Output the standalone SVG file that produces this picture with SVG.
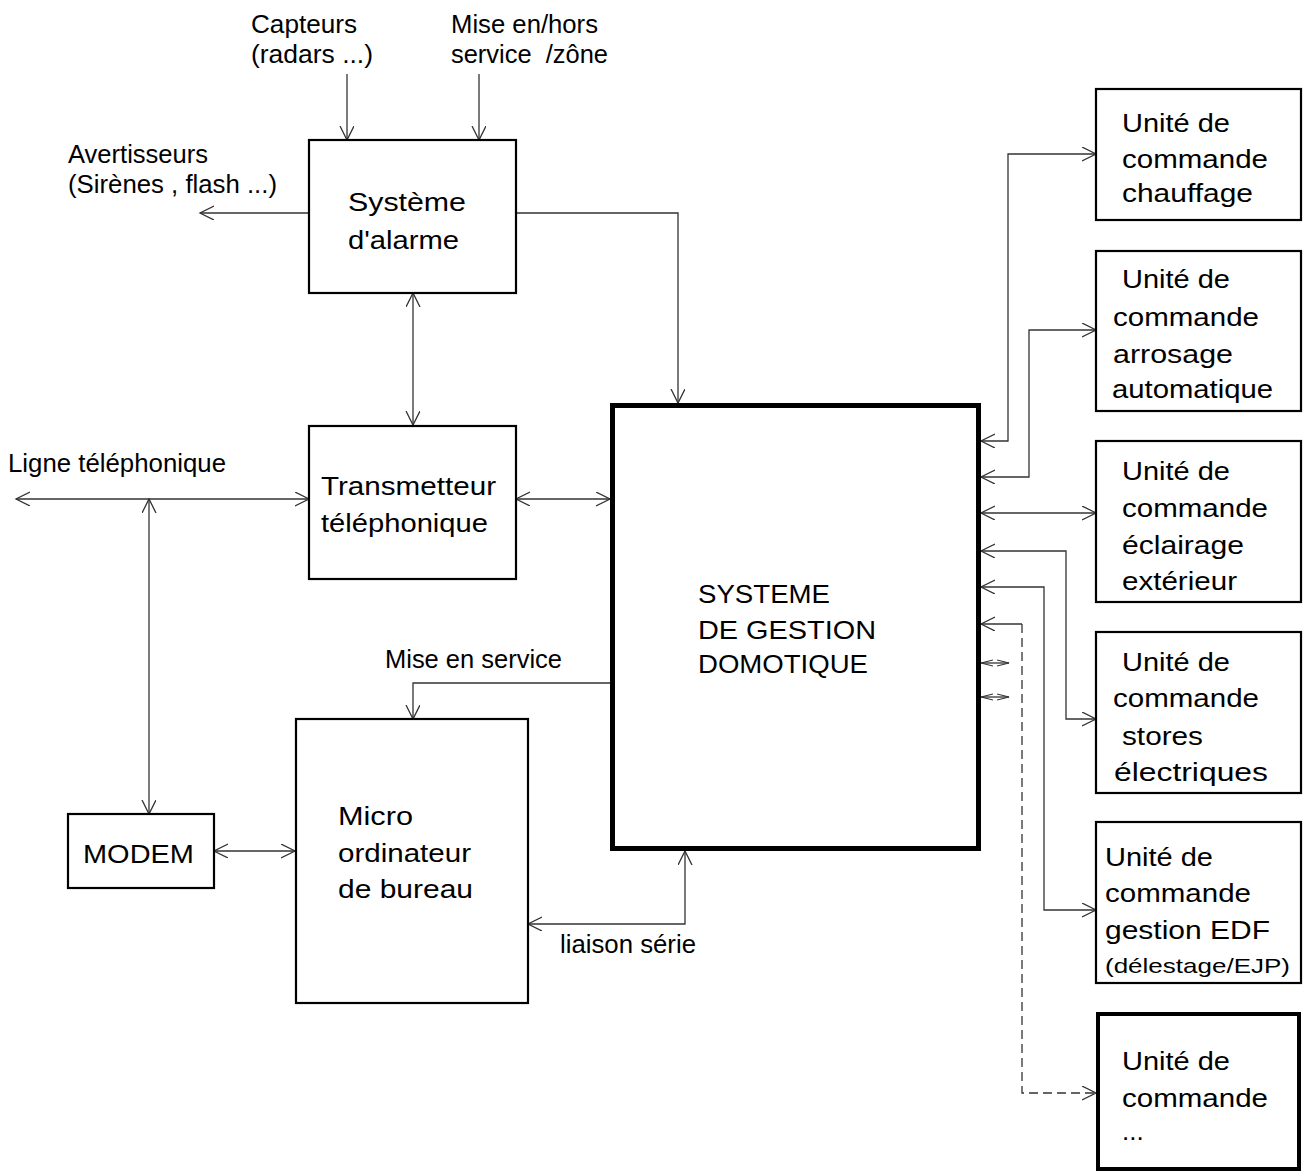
<svg xmlns="http://www.w3.org/2000/svg" width="1303" height="1173" viewBox="0 0 1303 1173">
<style>
text{font-family:"Liberation Sans",Arial,sans-serif;fill:#000}
.lbl{font-size:25px}
.bx{font-size:26px}
.sm{font-size:21px}
.box{fill:#fff;stroke:#000;stroke-width:2.2}
.thick{fill:#fff;stroke:#000;stroke-width:5}
.c{fill:none;stroke:#333;stroke-width:1.3;marker-end:url(#a)}
.d{marker-start:url(#a)}
.dash{stroke-dasharray:9,5}
.s{fill:none;stroke:#333;stroke-width:1.3;marker-end:url(#b);marker-start:url(#b)}
</style>
<defs>
<marker id="a" markerUnits="userSpaceOnUse" markerWidth="16" markerHeight="16" refX="14" refY="7" orient="auto-start-reverse" viewBox="0 0 16 16"><path d="M0,0 L14,7 L0,14" fill="none" stroke="#333" stroke-width="1.3"/></marker>
<marker id="b" markerUnits="userSpaceOnUse" markerWidth="14" markerHeight="8" refX="12" refY="4" orient="auto-start-reverse" viewBox="0 0 14 8"><path d="M0,1 L12,4 L0,7" fill="none" stroke="#333" stroke-width="1.2"/></marker>
</defs>
<rect width="1303" height="1173" fill="#fff"/>

<g id="labels">
<text class="lbl" x="251" y="33" textLength="106" lengthAdjust="spacingAndGlyphs">Capteurs</text>
<text class="lbl" x="251" y="63" textLength="122" lengthAdjust="spacingAndGlyphs">(radars ...)</text>
<text class="lbl" x="451" y="33" textLength="147" lengthAdjust="spacingAndGlyphs">Mise en/hors</text>
<text class="lbl" x="451" y="63" textLength="157" lengthAdjust="spacingAndGlyphs" xml:space="preserve">service  /zône</text>
<text class="lbl" x="68" y="163" textLength="140" lengthAdjust="spacingAndGlyphs">Avertisseurs</text>
<text class="lbl" x="68" y="193" textLength="209" lengthAdjust="spacingAndGlyphs">(Sirènes , flash ...)</text>
<text class="lbl" x="8" y="472" textLength="218" lengthAdjust="spacingAndGlyphs">Ligne téléphonique</text>
<text class="lbl" x="385" y="668" textLength="177" lengthAdjust="spacingAndGlyphs">Mise en service</text>
<text class="lbl" x="560" y="953" textLength="136" lengthAdjust="spacingAndGlyphs">liaison série</text>
</g>

<g id="connectors">
<path class="c" d="M347,74 V140"/>
<path class="c" d="M479,74 V140"/>
<path class="c" d="M309,213 H200"/>
<path class="c" d="M516,213 H678 V403"/>
<path class="c d" d="M413,293 V425"/>
<path class="c d" d="M16,499 H309"/>
<path class="c d" d="M149,499 V814"/>
<path class="c d" d="M516,499 H610"/>
<path class="c" d="M610,683 H413 V719"/>
<path class="c d" d="M214,851 H295"/>
<path class="c d" d="M528,924 H685 V851"/>
<path class="c d" d="M981,441 H1008 V154 H1096"/>
<path class="c d" d="M981,477 H1029 V330 H1096"/>
<path class="c d" d="M981,513 H1096"/>
<path class="c d" d="M981,551 H1066 V719 H1096"/>
<path class="c d" d="M981,587 H1044 V910 H1096"/>
<path fill="none" stroke="#333" stroke-width="1.3" marker-start="url(#a)" d="M981,624 H1022"/>
<path class="c dash" d="M1022,624 V1093 H1096"/>
<path class="s" d="M981,663 H1009"/>
<path class="s" d="M981,697 H1009"/>
</g>

<g id="alarme">
<rect class="box" x="309" y="140" width="207" height="153"/>
<text class="bx" x="348" y="211" textLength="118" lengthAdjust="spacingAndGlyphs">Système</text>
<text class="bx" x="348" y="249" textLength="111" lengthAdjust="spacingAndGlyphs">d'alarme</text>
</g>

<g id="transmetteur">
<rect class="box" x="309" y="426" width="207" height="153"/>
<text class="bx" x="321" y="495" textLength="175" lengthAdjust="spacingAndGlyphs">Transmetteur</text>
<text class="bx" x="321" y="532" textLength="167" lengthAdjust="spacingAndGlyphs">téléphonique</text>
</g>

<g id="modem">
<rect class="box" x="68" y="814" width="146" height="74"/>
<text class="bx" x="83" y="863" textLength="111" lengthAdjust="spacingAndGlyphs">MODEM</text>
</g>

<g id="micro">
<rect class="box" x="296" y="719" width="232" height="284"/>
<text class="bx" x="338" y="825" textLength="75" lengthAdjust="spacingAndGlyphs">Micro</text>
<text class="bx" x="338" y="862" textLength="133" lengthAdjust="spacingAndGlyphs">ordinateur</text>
<text class="bx" x="338" y="898" textLength="135" lengthAdjust="spacingAndGlyphs">de bureau</text>
</g>

<g id="sgd">
<rect class="thick" x="612.5" y="405.5" width="366" height="443"/>
<text class="bx" x="698" y="603" textLength="132" lengthAdjust="spacingAndGlyphs">SYSTEME</text>
<text class="bx" x="698" y="639" textLength="178" lengthAdjust="spacingAndGlyphs">DE GESTION</text>
<text class="bx" x="698" y="673" textLength="170" lengthAdjust="spacingAndGlyphs">DOMOTIQUE</text>
</g>

<g id="chauffage">
<rect class="box" x="1096" y="89" width="205" height="131"/>
<text class="bx" x="1122" y="132" textLength="108" lengthAdjust="spacingAndGlyphs">Unité de</text>
<text class="bx" x="1122" y="168" textLength="146" lengthAdjust="spacingAndGlyphs">commande</text>
<text class="bx" x="1122" y="202" textLength="131" lengthAdjust="spacingAndGlyphs">chauffage</text>
</g>

<g id="arrosage">
<rect class="box" x="1096" y="251" width="205" height="160"/>
<text class="bx" x="1122" y="288" textLength="108" lengthAdjust="spacingAndGlyphs">Unité de</text>
<text class="bx" x="1113" y="326" textLength="146" lengthAdjust="spacingAndGlyphs">commande</text>
<text class="bx" x="1113" y="363" textLength="120" lengthAdjust="spacingAndGlyphs">arrosage</text>
<text class="bx" x="1112" y="398" textLength="161" lengthAdjust="spacingAndGlyphs">automatique</text>
</g>

<g id="eclairage">
<rect class="box" x="1096" y="441" width="205" height="161"/>
<text class="bx" x="1122" y="480" textLength="108" lengthAdjust="spacingAndGlyphs">Unité de</text>
<text class="bx" x="1122" y="517" textLength="146" lengthAdjust="spacingAndGlyphs">commande</text>
<text class="bx" x="1122" y="554" textLength="122" lengthAdjust="spacingAndGlyphs">éclairage</text>
<text class="bx" x="1122" y="590" textLength="115" lengthAdjust="spacingAndGlyphs">extérieur</text>
</g>

<g id="stores">
<rect class="box" x="1096" y="632" width="205" height="161"/>
<text class="bx" x="1122" y="671" textLength="108" lengthAdjust="spacingAndGlyphs">Unité de</text>
<text class="bx" x="1113" y="707" textLength="146" lengthAdjust="spacingAndGlyphs">commande</text>
<text class="bx" x="1122" y="745" textLength="81" lengthAdjust="spacingAndGlyphs">stores</text>
<text class="bx" x="1114" y="781" textLength="154" lengthAdjust="spacingAndGlyphs">électriques</text>
</g>

<g id="edf">
<rect class="box" x="1096" y="822" width="205" height="161"/>
<text class="bx" x="1105" y="866" textLength="108" lengthAdjust="spacingAndGlyphs">Unité de</text>
<text class="bx" x="1105" y="902" textLength="146" lengthAdjust="spacingAndGlyphs">commande</text>
<text class="bx" x="1105" y="939" textLength="165" lengthAdjust="spacingAndGlyphs">gestion EDF</text>
<text class="sm" x="1105" y="973" textLength="185" lengthAdjust="spacingAndGlyphs">(délestage/EJP)</text>
</g>

<g id="autre">
<rect x="1098" y="1014" width="201" height="155" fill="#fff" stroke="#000" stroke-width="4"/>
<text class="bx" x="1122" y="1070" textLength="108" lengthAdjust="spacingAndGlyphs">Unité de</text>
<text class="bx" x="1122" y="1107" textLength="146" lengthAdjust="spacingAndGlyphs">commande</text>
<text class="bx" x="1122" y="1140">...</text>
</g>
</svg>
